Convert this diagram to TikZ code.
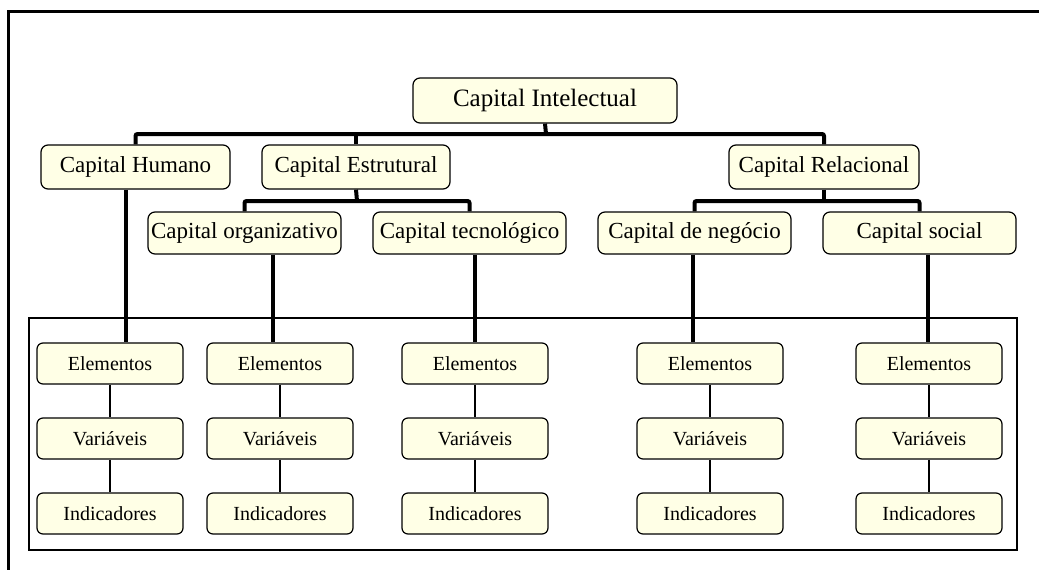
\documentclass[tikz,border=0pt]{standalone}
\usepackage{fontspec}
\setmainfont{Liberation Serif}
\usetikzlibrary{calc,backgrounds}
\definecolor{boxfill}{RGB}{255,255,230}
\begin{document}
\begin{tikzpicture}[x=1pt,y=-1pt,
  box/.style={draw=black, line width=1.2pt, fill=boxfill, rounded corners=7pt,
              inner sep=0pt, font=\fontsize{23}{26}\selectfont},
  topbox/.style={box, minimum height=45pt, font=\fontsize{25}{28}\selectfont},
  lvltwo/.style={box, minimum height=44pt},
  lvlthree/.style={box, minimum height=42pt, minimum width=193pt},
  sub/.style={box, minimum width=146pt, minimum height=41pt, rounded corners=6pt,
              font=\fontsize{20}{24}\selectfont},
  bus/.style={line width=4pt, rounded corners=2pt},
  drop/.style={line width=4pt},
  link/.style={line width=1.3pt},
  outer/.style={line width=3pt},
  inner/.style={line width=1.3pt}]
\useasboundingbox (0,0) rectangle (1039,570);

% frames
\draw[outer] (8,570) -- (8,11) -- (1039,11);
\draw[inner] (29,318) rectangle (1017,550);

% tree nodes
\node[topbox, minimum width=264pt] (ci) at (545,100.5) {Capital Intelectual};
\node[lvltwo, minimum width=189pt] (ch) at (135.5,167) {Capital Humano};
\node[lvltwo, minimum width=188pt] (ce) at (356,167) {Capital Estrutural};
\node[lvltwo, minimum width=190pt] (cr) at (824,167) {Capital Relacional};
\node[lvlthree] (co) at (244.5,233) {Capital organizativo};
\node[lvlthree] (ct) at (469.5,233) {Capital tecnológico};
\node[lvlthree] (cn) at (694.5,233) {Capital de negócio};
\node[lvlthree] (cs) at (919.5,233) {Capital social};

% element / variable / indicator columns
\foreach \c/\x in {1/110, 2/280, 3/475, 4/710, 5/929}{
  \node[sub] (e\c) at (\x,363.5) {Elementos};
  \node[sub] (v\c) at (\x,438.5) {Variáveis};
  \node[sub] (i\c) at (\x,513.5) {Indicadores};
}

% bus junctions
\coordinate (b1) at (546,134);
\coordinate (b2) at (357,201);
\coordinate (b3) at (824,201);

% connectors, kept behind the boxes
\begin{pgfonlayer}{background}
\draw[bus] (ci.south) -- (b1);
\draw[bus] (ch.north) |- (b1) -| (cr.north);
\draw[bus] (ce.north) -- (ce.north |- b1);
\draw[bus] (ce.south) -- (b2);
\draw[bus] (co.north) |- (b2) -| (ct.north);
\draw[bus] (cr.south) -- (b3);
\draw[bus] (cn.north) |- (b3) -| (cs.north);

\draw[drop] (ch.south -| 126,0) -- (e1.north -| 126,0);
\draw[drop] (co.south -| 273,0) -- (e2.north -| 273,0);
\draw[drop] (ct.south -| 475,0) -- (e3.north -| 475,0);
\draw[drop] (cn.south -| 693,0) -- (e4.north -| 693,0);
\draw[drop] (cs.south -| 928,0) -- (e5.north -| 928,0);

\foreach \c in {1,...,5}{
  \draw[link] (e\c.south) -- (v\c.north);
  \draw[link] (v\c.south) -- (i\c.north);
}
\end{pgfonlayer}
\end{tikzpicture}
\end{document}
